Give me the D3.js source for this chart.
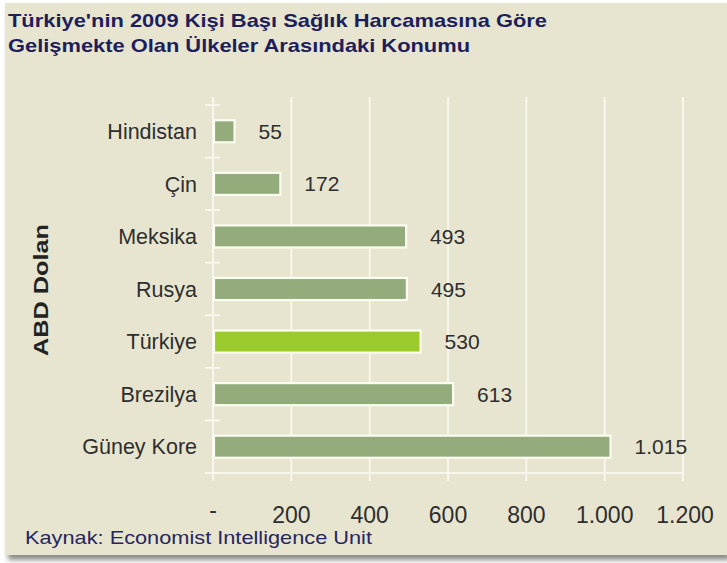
<!DOCTYPE html>
<html><head><meta charset="utf-8">
<script src="https://cdn.jsdelivr.net/npm/d3@7"></script>
<style>body{margin:0;background:#fff;}svg{display:block;font-family:"Liberation Sans",Arial,sans-serif;}</style>
</head><body>
<svg id="c" width="727" height="563"></svg>
<script>
const categories = ["Hindistan","Çin","Meksika","Rusya","Türkiye","Brezilya","Güney Kore"];
const values = [55,172,493,495,530,613,1015];
const valueLabels = ["55","172","493","495","530","613","1.015"];
const highlight = "Türkiye";
const xTicks = [0,200,400,600,800,1000,1200];
const xTickLabels = ["-","200","400","600","800","1.000","1.200"];
const titleLines = ["Türkiye'nin 2009 Kişi Başı Sağlık Harcamasına Göre","Gelişmekte Olan Ülkeler Arasındaki Konumu"];
const yTitle = "ABD Dolan";
const source = "Kaynak: Economist Intelligence Unit";

const svg = d3.select("#c");
const defs = svg.append("defs");
const f = defs.append("filter").attr("id","sh").attr("x","-5%").attr("y","-5%").attr("width","110%").attr("height","115%");
f.append("feGaussianBlur").attr("stdDeviation",2.5);
const g2 = defs.append("filter").attr("id","glow").attr("x","-10%").attr("y","-30%").attr("width","120%").attr("height","160%");
g2.append("feGaussianBlur").attr("stdDeviation",0.6);

// panel with shadow
svg.append("rect").attr("x",8).attr("y",8).attr("width",722).attr("height",552).attr("fill","#8d8d88").attr("filter","url(#sh)");
svg.append("rect").attr("x",5).attr("y",3).attr("width",722).attr("height",552).attr("fill","#e7e5d0");

const x = d3.scaleLinear().domain([0,1200]).range([213,683]);
const y = d3.scaleBand().domain(categories).range([105,473]).paddingInner(0.58).paddingOuter(0.29);

// gridlines
svg.append("g").selectAll("line").data(xTicks).join("line")
  .attr("x1",d=>x(d)).attr("x2",d=>x(d)).attr("y1",97).attr("y2",481)
  .attr("stroke","#fbfbf3").attr("stroke-width",1.6);
// bottom baseline
svg.append("line").attr("x1",x(0)).attr("x2",x(1200)).attr("y1",473).attr("y2",473)
  .attr("stroke","#fbfbf3").attr("stroke-width",1.6);
// y band ticks
const bounds = categories.map(c=>y(c)-y.step()*y.paddingInner()/2).concat([473]);
svg.append("g").selectAll("line").data(bounds).join("line")
  .attr("x1",205).attr("x2",220).attr("y1",d=>d).attr("y2",d=>d)
  .attr("stroke","#fbfbf3").attr("stroke-width",1.6);

// bars
svg.append("g").selectAll("rect").data(categories).join("rect")
  .attr("x",x(0)+1).attr("y",c=>y(c)).attr("height",y.bandwidth())
  .attr("width",(c,i)=>x(values[i])-x(0)-1)
  .attr("fill",c=>c===highlight?"#9acb2c":"#94ac7c")
  .attr("stroke","#fbfdf0").attr("stroke-width",2.2).attr("filter","url(#glow)");

// value labels
svg.append("g").selectAll("text").data(categories).join("text")
  .attr("x",(c,i)=>x(values[i])+24).attr("y",c=>y(c)+y.bandwidth()/2).attr("dy","0.36em")
  .attr("font-size",21).attr("fill","#2e2e2e")
  .text((c,i)=>valueLabels[i]);

// category labels
svg.append("g").selectAll("text").data(categories).join("text")
  .attr("x",197).attr("y",c=>y(c)+y.bandwidth()/2).attr("dy","0.36em")
  .attr("text-anchor","end").attr("font-size",21.5).attr("fill","#2e2e2e")
  .text(c=>c);

// x tick labels
svg.append("g").selectAll("text").data(xTicks).join("text")
  .attr("x",(d,i)=>x(d)+(i===xTicks.length-1?2:0)).attr("y",d=>d===0?518:523)
  .attr("text-anchor","middle").attr("font-size",23).attr("fill","#2e2e2e")
  .text((d,i)=>xTickLabels[i]);

// y title
svg.append("text").attr("transform","translate(48,290) rotate(-90)")
  .attr("text-anchor","middle").attr("font-size",21).attr("font-weight","bold").attr("fill","#222")
  .attr("textLength",132).attr("lengthAdjust","spacingAndGlyphs")
  .text(yTitle);

// title
svg.append("text").attr("x",8).attr("y",27).attr("font-size",19).attr("font-weight","bold").attr("fill","#1e1e5c")
  .attr("textLength",539).attr("lengthAdjust","spacingAndGlyphs").text(titleLines[0]);
svg.append("text").attr("x",8).attr("y",52).attr("font-size",19).attr("font-weight","bold").attr("fill","#1e1e5c")
  .attr("textLength",462).attr("lengthAdjust","spacingAndGlyphs").text(titleLines[1]);

// source
svg.append("text").attr("x",25).attr("y",544).attr("font-size",19).attr("fill","#262660")
  .attr("textLength",347).attr("lengthAdjust","spacingAndGlyphs").text(source);
</script>
</body></html>
